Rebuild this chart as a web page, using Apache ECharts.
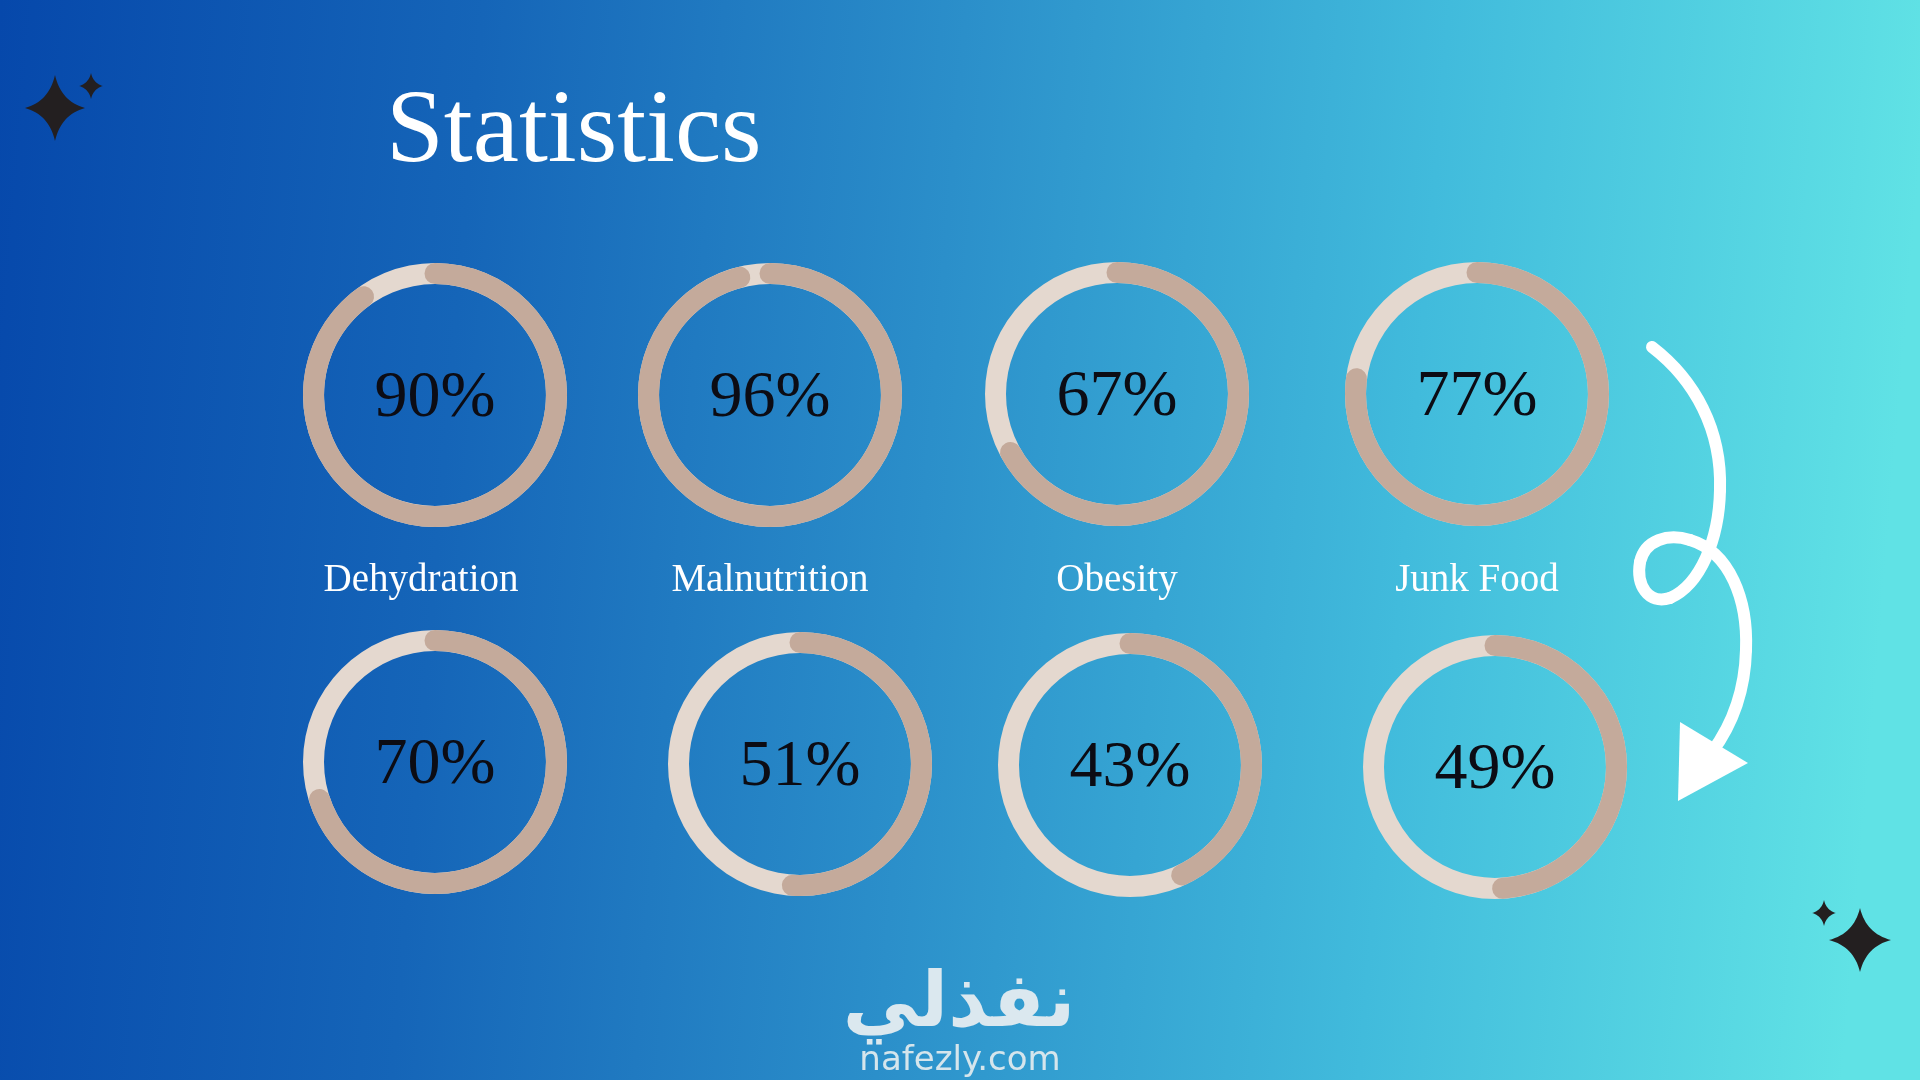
<!DOCTYPE html>
<html>
<head>
<meta charset="utf-8">
<style>
  html, body { margin: 0; padding: 0; width: 1920px; height: 1080px; overflow: hidden; }
  #chart { width: 1920px; height: 1080px; }
</style>
<script src="https://cdn.jsdelivr.net/npm/echarts@6/dist/echarts.min.js"></script>
</head>
<body>
<div id="chart"></div>
<script>
// ---- data ----
const titleText = 'Statistics';
const row1Labels = ['Dehydration', 'Malnutrition', 'Obesity', 'Junk Food'];
const row1Values = [90, 96, 67, 77];
const row2Values = [70, 51, 43, 49];
const logoArabic = 'نفذلي';
const logoLatin = 'nafezly.com';

// ---- layout ----
const row1Centers = [[435, 395], [770, 395], [1117, 394], [1477, 394]];
const row2Centers = [[435, 762], [800, 764], [1130, 765], [1495, 767]];
const labelOffsets = [[-14, 186], [0, 186], [0, 187], [0, 187]];
const ringRadius = 132;
const ringWidth = 21;
const trackColor = '#e4d8cf';
const progressColor = '#c4aa9b';

function gauge(center, value, name, titleOffset) {
  return {
    type: 'gauge',
    center: center,
    radius: ringRadius,
    startAngle: 90,
    endAngle: -270,
    min: 0,
    max: 100,
    clockwise: true,
    pointer: { show: false },
    anchor: { show: false },
    axisTick: { show: false },
    splitLine: { show: false },
    axisLabel: { show: false },
    axisLine: { lineStyle: { width: ringWidth, color: [[1, trackColor]] } },
    progress: { show: true, width: ringWidth, roundCap: true, itemStyle: { color: progressColor } },
    itemStyle: { color: progressColor },
    title: {
      show: !!name,
      offsetCenter: titleOffset || [0, 0],
      color: '#ffffff',
      fontFamily: 'Liberation Serif',
      fontSize: 39
    },
    detail: {
      valueAnimation: false,
      offsetCenter: [0, 4],
      formatter: '{value}%',
      color: '#0c0c14',
      fontFamily: 'Liberation Serif',
      fontWeight: 'normal',
      fontSize: 66
    },
    data: [{ value: value, name: name || '' }]
  };
}

const series = [];
row1Values.forEach((v, i) => series.push(gauge(row1Centers[i], v, row1Labels[i], labelOffsets[i])));
row2Values.forEach((v, i) => series.push(gauge(row2Centers[i], v, '', null)));

// four-point sparkle outline (decoration) sampled from quadratic curves
function starPoints(cx, cy, rx, ry) {
  const k = 0.2;
  const tips = [[cx, cy - ry], [cx + rx, cy], [cx, cy + ry], [cx - rx, cy]];
  const ctrls = [[cx + k * rx, cy - k * ry], [cx + k * rx, cy + k * ry],
                 [cx - k * rx, cy + k * ry], [cx - k * rx, cy - k * ry]];
  const pts = [];
  for (let s = 0; s < 4; s++) {
    const p0 = tips[s], p1 = ctrls[s], p2 = tips[(s + 1) % 4];
    for (let j = 0; j < 16; j++) {
      const t = j / 16, u = 1 - t;
      pts.push([u * u * p0[0] + 2 * u * t * p1[0] + t * t * p2[0],
                u * u * p0[1] + 2 * u * t * p1[1] + t * t * p2[1]]);
    }
  }
  return pts;
}

const starColor = '#231f20';
// arrow curve segments: [x1,y1, cp1x,cp1y, cp2x,cp2y, x2,y2]
const arrowSegs = [
  [1652, 347, 1695, 380, 1722, 430, 1720, 490],
  [1720, 490, 1719, 540, 1700, 585, 1670, 598],
  [1670, 598, 1648, 605, 1636, 585, 1640, 562],
  [1640, 562, 1645, 540, 1668, 533, 1690, 540],
  [1690, 540, 1730, 552, 1748, 600, 1746, 650],
  [1746, 650, 1745, 690, 1732, 725, 1712, 752]
];
const arrowStyle = { fill: null, stroke: '#ffffff', lineWidth: 12, lineCap: 'round', lineJoin: 'round' };

const graphics = [
  { type: 'text', x: 386, y: 134, style: {
      text: titleText, fill: '#ffffff', font: 'normal 104px "Liberation Serif"',
      textAlign: 'left', textVerticalAlign: 'middle' } },
  { type: 'polygon', shape: { points: starPoints(55, 108, 30, 33) }, style: { fill: starColor } },
  { type: 'polygon', shape: { points: starPoints(91, 86, 12, 13) }, style: { fill: starColor } },
  { type: 'polygon', shape: { points: starPoints(1860, 940, 31, 32) }, style: { fill: starColor } },
  { type: 'polygon', shape: { points: starPoints(1824, 913, 12, 13) }, style: { fill: starColor } },
  { type: 'polygon', shape: { points: [[1680, 722], [1748, 763], [1678, 801]] },
    style: { fill: '#ffffff' } },
  { type: 'text', x: 959, y: 1006, style: {
      text: logoArabic, fill: '#dbe8ef', font: 'bold 76px "DejaVu Sans"',
      textAlign: 'center', textVerticalAlign: 'middle' } },
  { type: 'text', x: 960, y: 1061, style: {
      text: logoLatin, fill: '#d5e5ec', font: 'normal 34px "DejaVu Sans"',
      textAlign: 'center', textVerticalAlign: 'middle' } }
];
arrowSegs.forEach(s => graphics.push({
  type: 'bezierCurve',
  shape: { x1: s[0], y1: s[1], cpx1: s[2], cpy1: s[3], cpx2: s[4], cpy2: s[5], x2: s[6], y2: s[7] },
  style: arrowStyle
}));

const option = {
  backgroundColor: {
    type: 'linear', x: 0, y: 0, x2: 1, y2: 0.15,
    colorStops: [
      { offset: 0, color: '#0648ab' },
      { offset: 0.25, color: '#1565b8' },
      { offset: 0.5, color: '#2b8fca' },
      { offset: 0.75, color: '#41bbdc' },
      { offset: 1, color: '#60e2e5' }
    ]
  },
  animation: false,
  graphic: graphics,
  series: series
};

const chart = echarts.init(document.getElementById('chart'), null, { renderer: 'canvas' });
chart.setOption(option);
</script>
</body>
</html>
